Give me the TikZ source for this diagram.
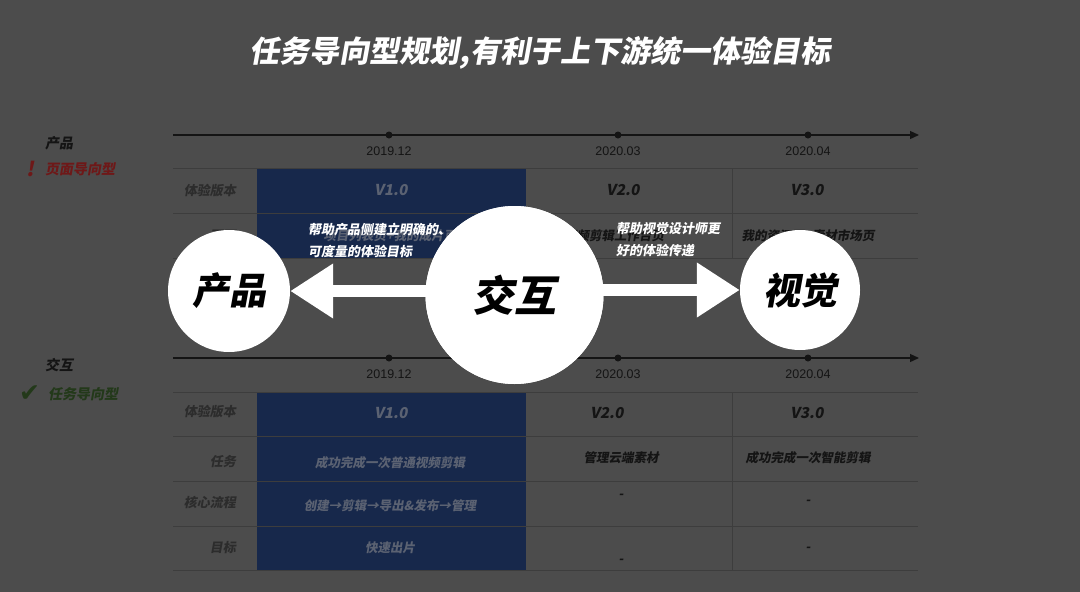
\documentclass[tikz,border=0pt]{standalone}
\usepackage{fontspec}
\newfontfamily\cjk[FakeSlant=0.18]{Noto Sans CJK SC}
\newfontfamily\lat{Liberation Sans}
\newfontfamily\sym{DejaVu Sans}
\usetikzlibrary{arrows.meta}
\definecolor{bg}{HTML}{4C4C4C}
\definecolor{cellblue}{HTML}{17284B}
\definecolor{rulec}{HTML}{3D3D3D}
\definecolor{lblc}{HTML}{2C2C2C}
\definecolor{darkc}{HTML}{141414}
\definecolor{bluetxt}{HTML}{5B6272}
\definecolor{redt}{HTML}{6E1818}
\definecolor{greent}{HTML}{23391A}
\tikzset{
  rowlabel/.style={font=\cjk\bfseries\fontsize{13}{13}\selectfont, text=lblc, anchor=east, inner sep=0pt},
  celltxt/.style={font=\cjk\bfseries\fontsize{12.5}{13}\selectfont, text=darkc, inner sep=0pt},
  bluecelltxt/.style={celltxt, text=bluetxt},
  vertxt/.style={font=\cjk\bfseries\fontsize{15}{15}\selectfont, text=darkc, inner sep=0pt},
  datetxt/.style={font=\lat\fontsize{12.5}{13}\selectfont, text=darkc, inner sep=0pt},
  notetxt/.style={font=\cjk\bfseries\fontsize{13}{22}\selectfont, text=white, align=left, anchor=west, inner sep=0pt},
  sidetxt/.style={font=\cjk\bfseries\fontsize{14}{14}\selectfont, anchor=west, inner sep=0pt},
  timeline/.style={draw=darkc, line width=1.3pt, -{Triangle[length=9pt,width=8pt]}},
  tabrule/.style={draw=rulec, line width=1pt},
  bigcircle/.style={circle, fill=white, inner sep=0pt, text=black, font=\cjk\bfseries\fontsize{37}{37}\selectfont},
  fatarrow/.style={draw=white, line width=12pt, -{Triangle[length=43pt,width=52pt]}},
  dot/.style={circle, fill=darkc, inner sep=0pt, minimum size=7pt}
}
\begin{document}
\begin{tikzpicture}[x=1pt,y=-1pt]
\fill[bg] (0,0) rectangle (1080,592);
\useasboundingbox (0,0) rectangle (1080,592);

% title
\node[font=\cjk\bfseries\fontsize{30}{30}\selectfont, text=white] (title) at (540,53) {任务导向型规划,有利于上下游统一体验目标};

% ---------- upper block ----------
\node[sidetxt, text=darkc] (lab1) at (45,143) {产品};
\node[sidetxt, text=redt, font=\cjk\bfseries\fontsize{20}{20}\selectfont] (excl) at (26,169) {!};
\node[sidetxt, text=redt] (type1) at (45,169) {页面导向型};

\fill[cellblue] (257,168) rectangle (526,258);
\coordinate (t1s) at (173,135);
\coordinate (t1e) at (919,135);
\draw[timeline] (t1s) -- (t1e);
\node[dot] (d11) at (389,135) {};
\node[dot] (d12) at (618,135) {};
\node[dot] (d13) at (808,135) {};
\node[datetxt] (dt11) at (389,151) {2019.12};
\node[datetxt] (dt12) at (618,151) {2020.03};
\node[datetxt] (dt13) at (808,151) {2020.04};
\foreach \yy in {168,213,258}{\draw[tabrule] (173,\yy) -- (918,\yy);}
\draw[tabrule] (732,168) -- (732,258);

\node[rowlabel] (u1) at (236,191) {体验版本};
\node[vertxt, text=bluetxt] (uv1) at (391,190) {V1.0};
\node[vertxt] (uv2) at (623,190) {V2.0};
\node[vertxt] (uv3) at (807,190) {V3.0};
\node[rowlabel] (u2) at (236,236) {页面};
\node[bluecelltxt] (uc1) at (390,236) {项目列表页+我的成片页};
\node[celltxt] (uc2) at (614,236) {视频剪辑工作台页};
\node[celltxt] (uc3) at (808,236) {我的资源页+素材市场页};

% ---------- lower block ----------
\node[sidetxt, text=darkc] (lab2) at (45,365) {交互};
\node[sidetxt, text=greent, font=\sym\bfseries\fontsize{25}{25}\selectfont] (chk) at (19,394) {✔};
\node[sidetxt, text=greent] (type2) at (48,394) {任务导向型};

\fill[cellblue] (257,392) rectangle (526,570);
\coordinate (t2s) at (173,358);
\coordinate (t2e) at (919,358);
\draw[timeline] (t2s) -- (t2e);
\node[dot] (d21) at (389,358) {};
\node[dot] (d22) at (618,358) {};
\node[dot] (d23) at (808,358) {};
\node[datetxt] (dt21) at (389,374) {2019.12};
\node[datetxt] (dt22) at (618,374) {2020.03};
\node[datetxt] (dt23) at (808,374) {2020.04};
\foreach \yy in {392,436,481,526,570}{\draw[tabrule] (173,\yy) -- (918,\yy);}
\draw[tabrule] (732,392) -- (732,570);

\node[rowlabel] (l1) at (236,412) {体验版本};
\node[vertxt, text=bluetxt] (lv1) at (391,413) {V1.0};
\node[vertxt] (lv2) at (607,413) {V2.0};
\node[vertxt] (lv3) at (807,413) {V3.0};
\node[rowlabel] (l2) at (236,462) {任务};
\node[bluecelltxt] (lc21) at (390,463) {成功完成一次普通视频剪辑};
\node[celltxt] (lc22) at (621,458) {管理云端素材};
\node[celltxt] (lc23) at (808,458) {成功完成一次智能剪辑};
\node[rowlabel] (l3) at (236,502) {核心流程};
\node[bluecelltxt] (lc31) at (390,506) {创建→剪辑→导出\&发布→管理};
\node[celltxt] (lc32) at (621,496) {-};
\node[celltxt] (lc33) at (808,502) {-};
\node[rowlabel] (l4) at (236,548) {目标};
\node[bluecelltxt] (lc41) at (390,548) {快速出片};
\node[celltxt] (lc42) at (621,561) {-};
\node[celltxt] (lc43) at (808,549) {-};

% ---------- overlay ----------
\node[notetxt] (n1) at (308,240) {帮助产品侧建立明确的、\\可度量的体验目标};
\node[notetxt] (n2) at (616,240) {帮助视觉设计师更\\好的体验传递};

\node[bigcircle, minimum size=122pt] (cp) at (229,291) {};
\node[bigcircle, minimum size=120pt] (sj) at (800,290) {};
\node[bigcircle, minimum size=178pt] (jh) at (514.5,295) {};

\draw[fatarrow] (jh.center |- cp.east) -- (cp.east);
\draw[fatarrow] (jh.center |- sj.west) -- (sj.west);

\node[bigcircle, minimum size=178pt, font=\cjk\bfseries\fontsize{42}{42}\selectfont] (jh2) at (jh) {交互};
\node[font=\cjk\bfseries\fontsize{37}{37}\selectfont, text=black] (cpt) at (cp) {产品};
\node[font=\cjk\bfseries\fontsize{37}{37}\selectfont, text=black] (sjt) at (sj) {视觉};
\end{tikzpicture}
\end{document}
